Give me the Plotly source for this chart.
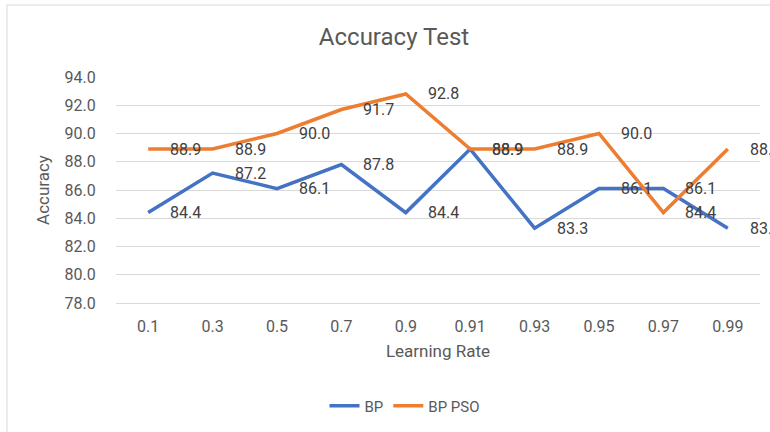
import plotly.graph_objects as go

categories = ["0.1", "0.3", "0.5", "0.7", "0.9", "0.91", "0.93", "0.95", "0.97", "0.99"]
bp = [84.4, 87.2, 86.1, 87.8, 84.4, 88.9, 83.3, 86.1, 86.1, 83.3]
bp_pso = [88.9, 88.9, 90.0, 91.7, 92.8, 88.9, 88.9, 90.0, 84.4, 88.9]
y_ticks = [78, 80, 82, 84, 86, 88, 90, 92, 94]

W, H = 770, 432
L, R, T, B = 116, 10, 77, 129
FONT = "Roboto, Open Sans, sans-serif"
GREY = "#595959"

xpos = list(range(len(categories)))

fig = go.Figure()
fig.add_trace(go.Scatter(x=xpos, y=bp, mode="lines", name="BP",
                         line=dict(color="#4472C4", width=3.5)))
fig.add_trace(go.Scatter(x=xpos, y=bp_pso, mode="lines", name="BP PSO",
                         line=dict(color="#ED7D31", width=3.5)))

annotations = []
for series in (bp, bp_pso):
    for xi, v in zip(xpos, series):
        annotations.append(dict(x=xi, y=v, xref="x", yref="y", text=f"{v:.1f}",
                                showarrow=False, xanchor="left", yanchor="middle",
                                xshift=20, font=dict(size=16, color="#404040", family=FONT)))

pw = W - L - R
ph = H - T - B
def px_to_paper_x(px):
    return (px - L) / pw
def py_to_paper_y(py):
    return (H - B - py) / ph

shapes = [
    dict(type="line", xref="paper", yref="paper",
         x0=px_to_paper_x(7), x1=px_to_paper_x(7),
         y0=py_to_paper_y(5), y1=py_to_paper_y(440),
         line=dict(color="#d9d9d9", width=1)),
    dict(type="line", xref="paper", yref="paper",
         x0=px_to_paper_x(7), x1=px_to_paper_x(780),
         y0=py_to_paper_y(5), y1=py_to_paper_y(5),
         line=dict(color="#d9d9d9", width=1)),
]

fig.update_layout(
    width=W, height=H,
    margin=dict(l=L, r=R, t=T, b=B, autoexpand=False),
    paper_bgcolor="white", plot_bgcolor="white",
    font=dict(family=FONT, color=GREY, size=16),
    title=dict(text="Accuracy Test", x=394 / W, xanchor="center", xref="container",
               y=1 - 37 / H, yanchor="middle", yref="container",
               font=dict(size=24, color=GREY, family=FONT)),
    xaxis=dict(range=[-0.5, len(categories) - 0.5],
               tickmode="array", tickvals=xpos, ticktext=categories,
               showgrid=False, showline=True, linecolor="#d9d9d9", linewidth=1,
               ticks="outside", ticklen=9, tickcolor="rgba(0,0,0,0)",
               tickfont=dict(size=16, color=GREY),
               title=dict(text="Learning Rate", font=dict(size=17, color=GREY), standoff=9),
               zeroline=False, automargin=False),
    yaxis=dict(range=[78, 94], tickmode="array", tickvals=y_ticks,
               ticktext=[f"{v:.1f}" for v in y_ticks],
               showgrid=True, gridcolor="#d9d9d9", gridwidth=1,
               ticks="outside", ticklen=16, tickcolor="rgba(0,0,0,0)",
               tickfont=dict(size=16, color=GREY),
               title=dict(text="Accuracy", font=dict(size=17, color=GREY), standoff=10),
               zeroline=False, showline=False, automargin=False),
    legend=dict(orientation="h", x=(405 - L) / pw, xanchor="center",
                y=py_to_paper_y(406), yanchor="middle",
                font=dict(size=15, color=GREY)),
    showlegend=True,
    annotations=annotations,
    shapes=shapes,
)

fig.write_html("out.html", config={"displayModeBar": False},
               post_script="document.body.style.margin='0';document.body.style.overflow='hidden';")
